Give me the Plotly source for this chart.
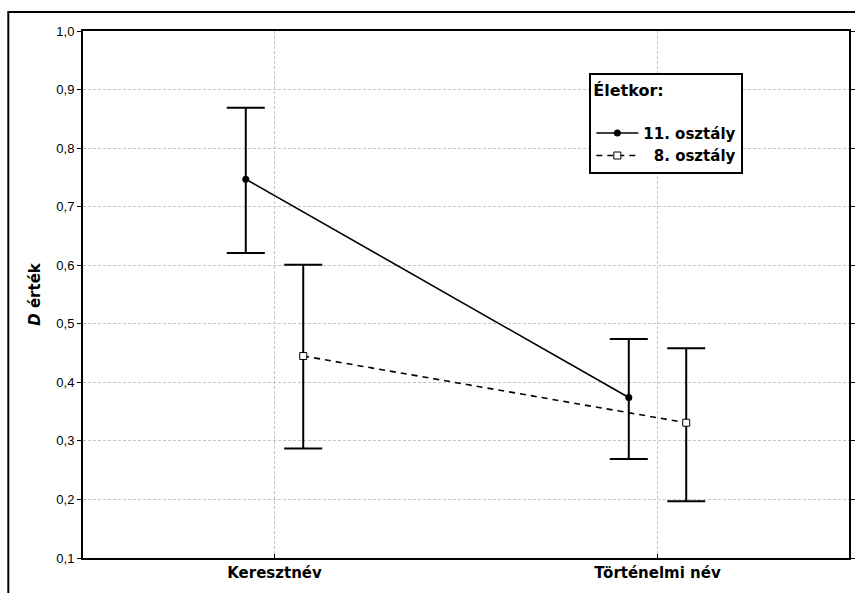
import plotly.graph_objects as go

# --- data ---
categories = ["Keresztnév", "Történelmi név"]

grade11_mean = [0.747, 0.374]
grade11_upper = [0.869, 0.474]
grade11_lower = [0.621, 0.269]

grade8_mean = [0.445, 0.331]
grade8_upper = [0.601, 0.458]
grade8_lower = [0.287, 0.197]

y_ticks = [0.1, 0.2, 0.3, 0.4, 0.5, 0.6, 0.7, 0.8, 0.9, 1.0]

FONT = "Liberation Sans, Arial, sans-serif"
BOLD = "DejaVu Sans, Arial, sans-serif"


def err(mean, upper, lower):
    return dict(
        type="data", symmetric=False,
        array=[u - m for u, m in zip(upper, mean)],
        arrayminus=[m - l for m, l in zip(mean, lower)],
        color="black", thickness=2, width=19,
    )


fig = go.Figure()

fig.add_trace(go.Scatter(
    x=categories, y=grade11_mean, name="<b>11. osztály</b>",
    mode="lines+markers", offsetgroup="g11",
    line=dict(color="black", width=1.6),
    marker=dict(symbol="circle", size=7, color="black"),
    error_y=err(grade11_mean, grade11_upper, grade11_lower),
))
fig.add_trace(go.Scatter(
    x=categories, y=grade8_mean, name="<b>  8. osztály</b>",
    mode="lines+markers", offsetgroup="g8",
    line=dict(color="black", width=1.6, dash="6px,5px"),
    marker=dict(symbol="square", size=7, color="white",
                line=dict(color="black", width=1)),
    error_y=err(grade8_mean, grade8_upper, grade8_lower),
))

# outer frame
fig.add_shape(type="rect", xref="paper", yref="paper",
              x0=-0.0975, y0=-0.3, x1=1.2, y1=1.036,
              line=dict(color="black", width=2), layer="below")

fig.update_layout(
    width=855, height=593,
    margin=dict(l=83, r=0, t=31, b=35),
    paper_bgcolor="white", plot_bgcolor="white",
    separators=", ",
    scattermode="group", scattergap=0.7,
    font=dict(family=FONT, size=12, color="black"),
    showlegend=True,
    legend=dict(
        title=dict(text="<b>Életkor:</b><br> ", font=dict(size=16, family=BOLD)),
        x=0.661, y=0.92, xanchor="left", yanchor="top",
        bordercolor="black", borderwidth=2, bgcolor="white",
        font=dict(size=15, family=BOLD),
        itemwidth=42, tracegroupgap=0,
    ),
    xaxis=dict(
        type="category", range=[-0.5, 1.5],
        showline=True, linecolor="black", linewidth=2, mirror=True,
        showgrid=True, gridcolor="#c4c4c4", griddash="3px,2px", gridwidth=1,
        ticks="inside", ticklen=4, tickcolor="black",
        tickfont=dict(size=15, family=BOLD),
        tickprefix="<b>", ticksuffix="</b>",
        zeroline=False,
    ),
    yaxis=dict(
        range=[0.1, 1.0], tickvals=y_ticks, tickformat=".1f",
        showline=True, linecolor="black", linewidth=2, mirror="ticks",
        showgrid=True, gridcolor="#c4c4c4", griddash="3px,2px", gridwidth=1,
        ticks="outside", ticklen=4, tickcolor="black",
        tickfont=dict(size=13, family=FONT),
        title=dict(text="<b><i>D</i> érték</b>", font=dict(size=15, family=BOLD),
                   standoff=12),
        zeroline=False,
    ),
)

fig.write_html(
    "out.html",
    config={"displayModeBar": False},
    post_script="document.body.style.margin='0';document.body.style.overflow='hidden';",
)
